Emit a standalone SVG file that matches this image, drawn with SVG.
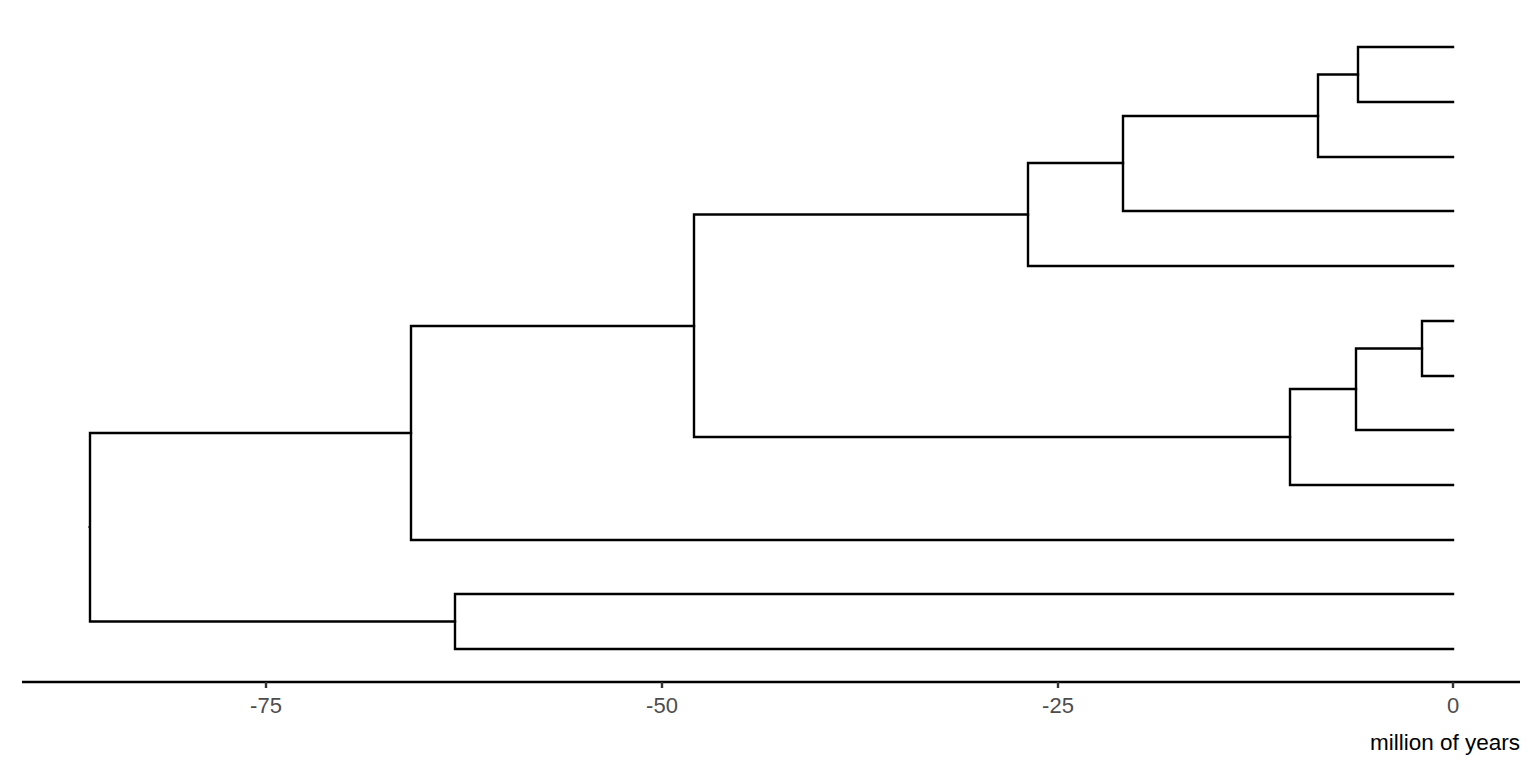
<svg xmlns="http://www.w3.org/2000/svg" width="1536" height="768" viewBox="0 0 1536 768">
<style>
.e{fill:none;stroke:#000;stroke-width:2.4;stroke-linecap:square}
.ax{stroke:#000;stroke-width:2.4}
.tk{stroke:#333;stroke-width:2.4}
.tl{font-family:"Liberation Sans",Arial,sans-serif;font-size:22px;fill:#4d4d4d;text-anchor:middle}
.tt{font-family:"Liberation Sans",Arial,sans-serif;font-size:22.5px;fill:#000;text-anchor:end}
</style>
<rect width="1536" height="768" fill="#fff"/>
<g id="edges">
<path class="e" d="M1453,47 H1358 V102 H1453"/>
<path class="e" d="M1358,74.5 H1318 M1318,74.5 V157 H1453"/>
<path class="e" d="M1318,116 H1123 M1123,116 V211 H1453"/>
<path class="e" d="M1123,163 H1028 M1028,163 V266 H1453"/>
<path class="e" d="M1453,321 H1422 V376 H1453"/>
<path class="e" d="M1422,348.5 H1356 M1356,348.5 V430 H1453"/>
<path class="e" d="M1356,389 H1290 M1290,389 V485 H1453"/>
<path class="e" d="M1028,214.5 H694 M1290,437 H694 M694,214.5 V437"/>
<path class="e" d="M694,326 H411 M411,326 V540 H1453"/>
<path class="e" d="M1453,594 H455 V649 H1453"/>
<path class="e" d="M411,433 H90 M455,621.5 H90 M90,433 V621.5"/>
<path d="M88,527 H90" stroke="#000" stroke-width="1.2" fill="none"/>
</g>
<g id="axis">
<line class="ax" x1="22" y1="682" x2="1520" y2="682"/>
<line class="tk" x1="266" y1="682" x2="266" y2="688"/>
<line class="tk" x1="662" y1="682" x2="662" y2="688"/>
<line class="tk" x1="1058" y1="682" x2="1058" y2="688"/>
<line class="tk" x1="1453" y1="682" x2="1453" y2="688"/>
<text class="tl" x="266" y="713">-75</text>
<text class="tl" x="662" y="713">-50</text>
<text class="tl" x="1058" y="713">-25</text>
<text class="tl" x="1453" y="713">0</text>
<text class="tt" x="1520" y="750">million of years</text>
</g>
</svg>
